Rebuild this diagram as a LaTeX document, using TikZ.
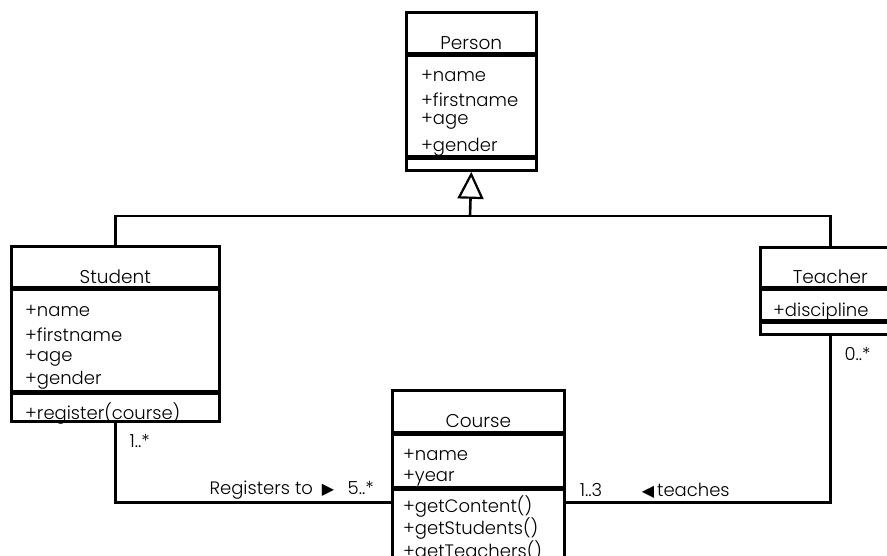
\documentclass[tikz,border=0pt]{standalone}
\usepackage{fontspec}
\setmainfont{Poppins}[UprightFont=* Light]
\newfontfamily\symfont{DejaVu Sans}
\usetikzlibrary{arrows.meta,positioning}

\tikzset{
  box/.style={draw, line width=2.6pt, inner sep=0pt, anchor=north west},
  conn/.style={line width=2.6pt},
  gen/.style={conn, -{Triangle[open, length=27pt, width=26pt, line width=2.2pt]}},
  classname/.style={font=\fontsize{18.5}{22}\selectfont, inner sep=0pt, anchor=base},
  members/.style={font=\fontsize{18}{20}\selectfont, align=left, inner sep=0pt, anchor=south west},
  mult/.style={font=\fontsize{18}{20}\selectfont, inner sep=0pt, anchor=base west},
}
\newcommand{\rarr}{{\symfont\fontsize{16}{18}\selectfont ▶}}
\newcommand{\larr}{{\symfont\fontsize{16}{18}\selectfont ◀}}

\begin{document}
\begin{tikzpicture}[x=1pt,y=-1pt]
  \useasboundingbox (0,0) rectangle (887,555);
  \clip (0,0) rectangle (887,555);

  % Person
  \node[box, minimum width=130pt, minimum height=41pt] (person) at (405,11) {};
  \node[box, minimum width=130pt, minimum height=100pt] (personattr) at (person.south west) {};
  \node[box, minimum width=130pt, minimum height=12pt] (personops) at (personattr.south west) {};
  \node[classname] (personname) at ([yshift=5pt]person.south) {Person};
  \node[members] (personattrs) at ([xshift=16pt,yshift=0.5pt]personattr.south west)
    {+name\\[5pt]+firstname\\[-2pt]+age\\[7pt]+gender};

  % Student
  \node[box, minimum width=208pt, minimum height=41pt] (student) at (10,245) {};
  \node[box, minimum width=208pt, minimum height=101pt] (studentattr) at (student.south west) {};
  \node[box, minimum width=208pt, minimum height=28pt] (studentops) at (studentattr.south west) {};
  \node[classname] (studentname) at ([yshift=5pt]student.south) {Student};
  \node[members] (studentattrs) at ([xshift=15pt,yshift=2.5pt]studentattr.south west)
    {+name\\[5pt]+firstname\\+age\\[3pt]+gender};
  \node[members] (studentopsl) at ([xshift=15pt,yshift=-2pt]studentops.south west)
    {+register(course)};

  % Teacher
  \node[box, minimum width=140pt, minimum height=40pt] (teacher) at (759,246) {};
  \node[box, minimum width=140pt, minimum height=30pt] (teacherattr) at (teacher.south west) {};
  \node[box, minimum width=140pt, minimum height=12pt] (teacherops) at (teacherattr.south west) {};
  \node[classname] (teachername) at ([yshift=5pt]teacher.south) {Teacher};
  \node[members] (teacherattrs) at ([xshift=14pt]teacherattr.south west) {+discipline};

  % Course
  \node[box, minimum width=172pt, minimum height=42pt] (course) at (391,389) {};
  \node[box, minimum width=172pt, minimum height=52pt] (courseattr) at (course.south west) {};
  \node[box, minimum width=172pt, minimum height=80pt] (courseops) at (courseattr.south west) {};
  \node[classname] (coursename) at ([yshift=6pt]course.south) {Course};
  \node[members] (courseattrs) at ([xshift=12pt,yshift=1.5pt]courseattr.south west)
    {+name\\[1pt]+year};
  \node[members] (courseopsl) at ([xshift=12pt,yshift=8.5pt]courseops.south west)
    {+getContent()\\+getStudents()\\+getTeachers()};

  % generalisation
  \coordinate (split) at (470,216);
  \draw[conn] (student.north) |- (split) -| (teacher.north);
  \draw[gen] (split) -- (personops.south);

  % associations
  \coordinate (regin) at ([yshift=-14pt]courseops.north west);
  \coordinate (teachin) at ([yshift=-14pt]courseops.north east);
  \draw[conn] (studentops.south) |- (regin);
  \draw[conn] (teacherops.south) |- (teachin);

  \node[mult] (studentmult) at ([xshift=14pt,yshift=-25pt]studentops.south) {1..*};
  \node[mult] (teachermult) at ([xshift=14pt,yshift=-25pt]teacherops.south) {0..*};
  \node[mult, anchor=base east] (regmult) at ([xshift=-17pt,yshift=8pt]regin) {5..*};
  \node[mult, anchor=base east] (regname) at ([xshift=-13pt]regmult.base west)
    {Registers to\hspace{9pt}\rarr};
  \node[mult] (teachmult) at ([xshift=14pt,yshift=6pt]teachin) {1..3};
  \node[mult] (teachname) at ([xshift=76pt,yshift=6pt]teachin) {\larr\hspace{3pt}teaches};
\end{tikzpicture}
\end{document}
